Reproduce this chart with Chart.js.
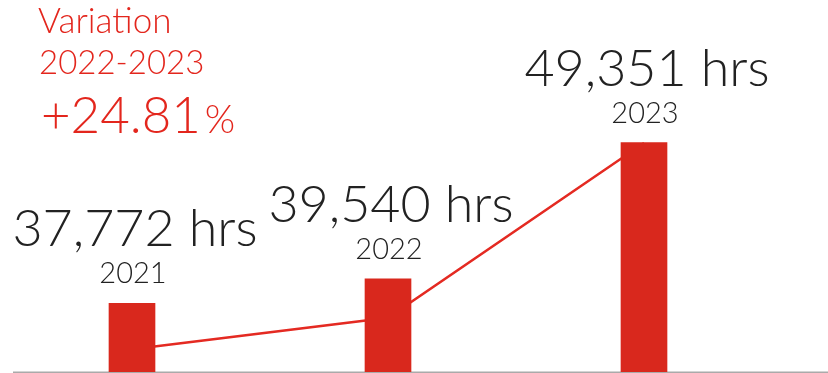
<!DOCTYPE html>
<html><head><meta charset="utf-8">
<script src="https://cdn.jsdelivr.net/npm/chart.js@4/dist/chart.umd.min.js"></script>
<style>html,body{margin:0;padding:0;background:#fff;}canvas{display:block;}</style>
</head><body>
<canvas id="c" width="828" height="373"></canvas>
<script>
const years = ['2021', '2022', '2023'];
const hours = [37772, 39540, 49351];
const unit = 'hrs';
const variationLabel = 'Variation';

const RED = '#d9281d';
const LINE_RED = '#e42a22';
const DARK = '#222222';
const FONT = 'Lato, "Open Sans", sans-serif';

const fmt = v => v.toLocaleString('en-US');
const variation = (hours[2] - hours[1]) / hours[1] * 100;

const labelPlugin = {
  id: 'labels',
  beforeDraw(chart) {
    const ctx = chart.ctx, a = chart.chartArea;
    ctx.save();
    ctx.strokeStyle = '#aaaaaa';
    ctx.lineWidth = 1.5;
    ctx.beginPath();
    ctx.moveTo(13, a.bottom + 0.25);
    ctx.lineTo(828, a.bottom + 0.25);
    ctx.stroke();
    ctx.restore();
  },
  afterDatasetsDraw(chart) {
    const ctx = chart.ctx;
    const meta = chart.getDatasetMeta(1);
    ctx.save();
    ctx.textAlign = 'center';
    ctx.textBaseline = 'alphabetic';
    ctx.fillStyle = DARK;
    meta.data.forEach((bar, i) => {
      ctx.font = '300 29px ' + FONT;
      ctx.fillText(years[i], bar.x + 1, bar.y - 20);
      ctx.font = '300 52px ' + FONT;
      ctx.fillText(fmt(hours[i]) + ' ' + unit, bar.x + 3, bar.y - 57);
    });
    // variation block
    ctx.textAlign = 'left';
    ctx.fillStyle = '#e3261d';
    ctx.font = '300 35px ' + FONT;
    ctx.fillText(variationLabel, 38, 33);
    ctx.font = '300 33px ' + FONT;
    ctx.fillText(years[1] + '-' + years[2], 39, 74);
    ctx.font = '300 51px ' + FONT;
    const t = '+' + variation.toFixed(2);
    ctx.fillText(t, 41, 133);
    const w = ctx.measureText(t).width;
    ctx.font = '300 39px ' + FONT;
    ctx.fillText('%', 41 + w + 4, 133);
    ctx.restore();
  }
};

new Chart(document.getElementById('c'), {
  type: 'bar',
  data: {
    labels: years,
    datasets: [
      {
        type: 'line',
        data: hours,
        yAxisID: 'y2',
        borderColor: LINE_RED,
        borderWidth: 2.5,
        pointRadius: 0,
        tension: 0,
        order: 2
      },
      {
        type: 'bar',
        data: hours,
        yAxisID: 'y',
        backgroundColor: RED,
        barThickness: 46,
        order: 1
      }
    ]
  },
  options: {
    responsive: false,
    animation: false,
    devicePixelRatio: 1,
    layout: { padding: { left: 4, right: 56, top: 0, bottom: 1 } },
    plugins: { legend: { display: false }, tooltip: { enabled: false } },
    scales: {
      x: { display: false, offset: true },
      y: { display: false, min: 32831, max: 59632 },
      y2: { display: false, min: 36490, max: 57387 }
    }
  },
  plugins: [labelPlugin]
});
</script>
</body></html>
